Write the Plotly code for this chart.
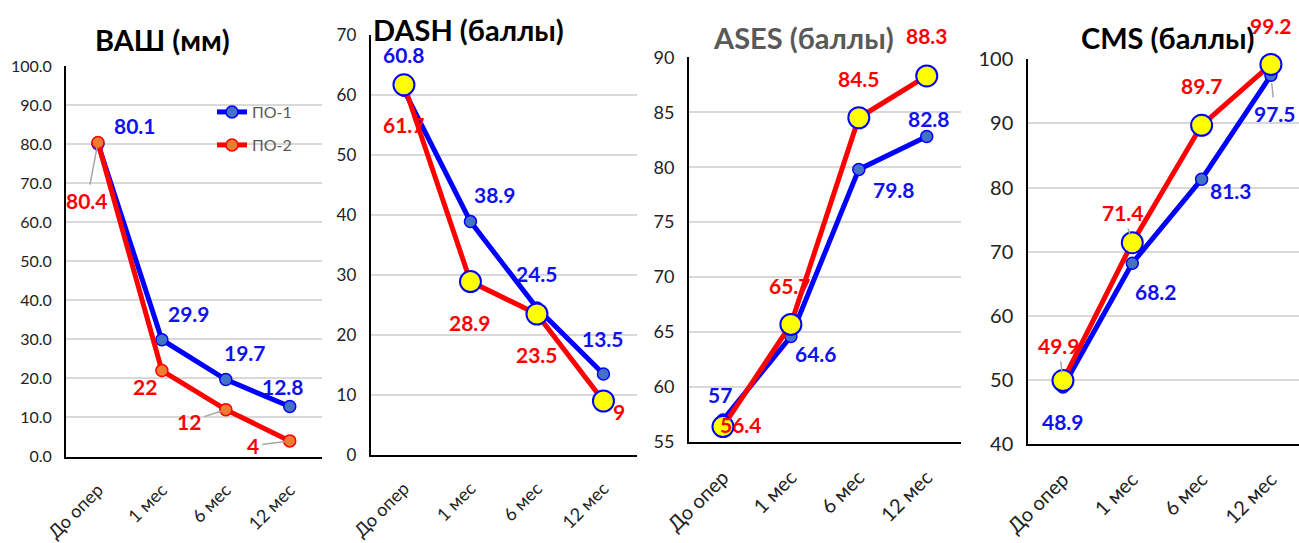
import plotly.graph_objects as go

# ---------------- data ----------------
categories = ["До опер", "1 мес", "6 мес", "12 мес"]
series_names = ["ПО-1", "ПО-2"]

vas_po1 = [80.1, 29.9, 19.7, 12.8]
vas_po2 = [80.4, 22, 12, 4]
dash_po1 = [60.8, 38.9, 24.5, 13.5]
dash_po2 = [61.7, 28.9, 23.5, 9]
ases_po1 = [57, 64.6, 79.8, 82.8]
ases_po2 = [56.4, 65.7, 84.5, 88.3]
cms_po1 = [48.9, 68.2, 81.3, 97.5]
cms_po2 = [49.9, 71.4, 89.7, 99.2]

titles = ["ВАШ (мм)", "DASH (баллы)", "ASES (баллы)", "CMS (баллы)"]

# ---------------- styling / layout ----------------
W, H = 1299, 543
FONT = "Lato, 'Open Sans', sans-serif"
BLUE = "#0000FF"
RED = "#FF0000"
LBL_BLUE = "#1010F0"
GRID = "#D9D9D9"

# panel boxes in px: (left, right, top, bottom)
boxes = [(66, 321.7, 66, 456.5), (370.7, 636.7, 35, 455), (689, 960.7, 57.3, 442), (1028.3, 1299, 59.3, 444)]
xranges = [[-0.5, 3.5], [-0.5, 3.5], [-0.5, 3.5], [-0.5, 3.405]]
yranges = [[0, 100], [0, 70], [55, 90], [40, 100]]
dticks = [10, 10, 5, 10]
tickfmts = [".1f", "", "", ""]
ytick_sizes = [16, 17, 18, 20]
xtick_sizes = [18, 18, 20, 20]
title_pos = [(162, 39, "black"), (468, 30, "black"), (803, 37, "#595959"), (1168, 37, "black")]

# label offsets (px): (dx, dy_down, leader)
off_po1 = [
    [(37, -18, 0), (27, -26, 0), (19, -27, 0), (-7, -20, 0)],
    [(0, -36, 0), (25, -27, 0), (0, -35, 0), (0, -36, 0)],
    [(-3, -26, 0), (25, 17, 0), (35, 20, 0), (2, -18, 0)],
    [(0, 35, 0), (24, 28, 0), (29, 11, 0), (4, 38, 1)],
]
off_po2 = [
    [(-11, 58, 1), (-17, 16, 0), (-37, 12, 1), (-37, 5, 1)],
    [(0, 40, 0), (0, 41, 0), (0, 40, 0), (16, 10, 0)],
    [(18, -2, 0), (-1, -39, 0), (0, -39, 0), (0, -40, 0)],
    [(-4, -35, 1), (-9, -30, 1), (0, -40, 0), (0, -39, 0)],
]

po1_data = [vas_po1, dash_po1, ases_po1, cms_po1]
po2_data = [vas_po2, dash_po2, ases_po2, cms_po2]

fig = go.Figure()
layout_axes = {}
annotations = []

for i in range(4):
    l, r, t, b = boxes[i]
    sfx = "" if i == 0 else str(i + 1)
    xa, ya = "x" + sfx, "y" + sfx

    # ПО-1 (blue)
    fig.add_trace(go.Scatter(
        x=categories, y=po1_data[i], mode="lines+markers", name=series_names[0],
        xaxis=xa, yaxis=ya, showlegend=(i == 0), legend="legend",
        line=dict(color=BLUE, width=5),
        marker=dict(size=12, color="#4472C4", line=dict(color=BLUE, width=1.5)),
        hoverinfo="x+y", cliponaxis=False,
    ))
    # ПО-2 (red)
    if i == 0:
        mk = dict(size=12, color="#ED7D31", line=dict(color=RED, width=1.5))
    else:
        mk = dict(size=21, color="#FFFF00", line=dict(color=BLUE, width=2))
    fig.add_trace(go.Scatter(
        x=categories, y=po2_data[i], mode="lines+markers", name=series_names[1],
        xaxis=xa, yaxis=ya, showlegend=(i == 0), legend="legend2",
        line=dict(color=RED, width=5),
        marker=mk,
        hoverinfo="x+y", cliponaxis=False,
    ))

    layout_axes["xaxis" + sfx] = dict(
        domain=[l / W, r / W], anchor=ya, type="category", automargin=False,
        range=xranges[i], showgrid=False, showline=True, linecolor="black", linewidth=2,
        tickangle=-45, tickfont=dict(family=FONT, size=xtick_sizes[i], color="#222"),
        ticks="", ticklabelstandoff=14, fixedrange=True,
    )
    layout_axes["yaxis" + sfx] = dict(
        domain=[1 - b / H, 1 - t / H], anchor=xa, range=yranges[i], dtick=dticks[i],
        tickformat=tickfmts[i], showgrid=True, gridcolor=GRID, gridwidth=1.5,
        showline=True, linecolor="black", linewidth=2, zeroline=False, automargin=False,
        tickfont=dict(family=FONT, size=ytick_sizes[i], color="#222"), ticks="",
        ticklabelstandoff=9, fixedrange=True,
    )

    # data labels
    for vals, offs, col in ((po1_data[i], off_po1[i], LBL_BLUE), (po2_data[i], off_po2[i], RED)):
        for j, v in enumerate(vals):
            dx, dy, leader = offs[j]
            a = dict(
                x=categories[j], y=v, xref=xa, yref=ya, text=f"{v:g}",
                font=dict(family=FONT, size=21, color=col, weight="bold"),
            )
            if leader:
                a.update(showarrow=True, ax=dx, ay=dy, axref="pixel", ayref="pixel",
                         arrowhead=0, arrowwidth=1.5, arrowcolor="#A6A6A6",
                         standoff=5 if i == 0 else 8, startstandoff=2)
            else:
                a.update(showarrow=False, xshift=dx, yshift=-dy)
            annotations.append(a)

    # panel title
    tx, ty, tc = title_pos[i]
    annotations.append(dict(
        x=tx / W, y=1 - ty / H, xref="paper", yref="paper", showarrow=False,
        text=titles[i], xanchor="center", yanchor="middle",
        font=dict(family=FONT, size=29, color=tc, weight="bold"),
    ))

legend_common = dict(
    xanchor="left", yanchor="middle", bgcolor="rgba(0,0,0,0)",
    font=dict(family=FONT, size=16, color="#595959"),
)
fig.update_layout(
    width=W, height=H,
    margin=dict(l=0, r=0, t=0, b=0, autoexpand=False),
    paper_bgcolor="white", plot_bgcolor="white",
    showlegend=True,
    legend=dict(x=212 / W, y=1 - 112 / H, **legend_common),
    legend2=dict(x=212 / W, y=1 - 145 / H, **legend_common),
    annotations=annotations,
    **layout_axes,
)

fig.write_html(
    "out.html",
    config={"displayModeBar": False},
    post_script="document.body.style.margin='0';document.body.style.overflow='hidden';",
)
